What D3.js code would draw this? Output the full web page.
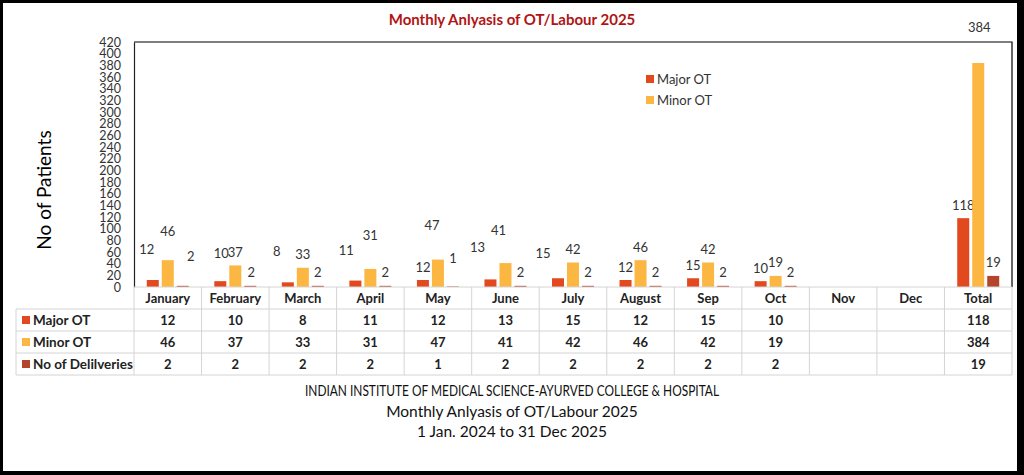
<!DOCTYPE html>
<html>
<head>
<meta charset="utf-8">
<script src="https://cdn.jsdelivr.net/npm/d3@7"></script>
<style>
  body { margin: 0; background: #fff; }
  text { font-family: Lato, "Open Sans", sans-serif; }
</style>
</head>
<body>
<div id="chart"></div>
<script>
var categories = ["January","February","March","April","May","June","July","August","Sep","Oct","Nov","Dec","Total"];
var majorOT    = [12, 10, 8, 11, 12, 13, 15, 12, 15, 10, null, null, 118];
var minorOT    = [46, 37, 33, 31, 47, 41, 42, 46, 42, 19, null, null, 384];
var deliveries = [2, 2, 2, 2, 1, 2, 2, 2, 2, 2, null, null, 19];
var yTicks = d3.range(0, 421, 20);

var seriesNames = ["Major OT", "Minor OT", "No of Delilveries"];
var seriesValues = [majorOT, minorOT, deliveries];
var colors = ["#e2491f", "#fcb743", "#b4452a"];

// hand-moved data labels in the original (dx, dy from default spot)
var majorNudge = [[-6,-18],[1,-15],[-11,-18],[-9,-17],[0,0],[-13,-19],[-15,-12],[0,0],[0,0],[0,0],[0,0],[0,0],[0,0]];
var minorNudge = [[0,-16],[0,0],[0,0],[0,-20],[-6,-21],[-7,-20],[0,0],[0,0],[0,0],[0,0],[0,0],[0,0],[1,-23]];
var delivNudge = [[8,-16],[1,0],[0,0],[0,0],[0,-15],[0,0],[0,0],[0,0],[0,0],[0,0],[0,0],[0,0],[0,0]];
var nudges = [majorNudge, minorNudge, delivNudge];

var width = 1024, height = 475;
var plot = {left: 134, right: 1012, top: 42, bottom: 287};
var rowH = 22;

var svg = d3.select("#chart").append("svg")
    .attr("width", width).attr("height", height);

// black frame
svg.append("rect").attr("width", width).attr("height", height).attr("fill", "#000");
svg.append("rect").attr("x", 3).attr("y", 3).attr("width", 1014).attr("height", 468).attr("fill", "#fff");

var x = d3.scaleBand().domain(categories).range([plot.left, plot.right]);
var xSub = d3.scaleBand().domain(seriesNames).range([-21, 21]).paddingInner(0.2);
var y = d3.scaleLinear().domain([0, 420]).range([plot.bottom, plot.top]);

// title
svg.append("text")
    .attr("x", 512).attr("y", 25)
    .attr("text-anchor", "middle")
    .attr("font-size", 15).attr("font-weight", "bold")
    .attr("fill", "#b01515")
    .text("Monthly Anlyasis of OT/Labour 2025");

// plot box
svg.append("path")
    .attr("d", "M" + plot.left + "," + plot.top + "H" + plot.right + "V" + plot.bottom)
    .attr("fill", "none").attr("stroke", "#000").attr("stroke-width", 1.2);

// y axis
var yAxis = d3.axisLeft(y).tickValues(yTicks).tickSize(0).tickPadding(13);
var gy = svg.append("g")
    .attr("transform", "translate(" + plot.left + ",0)")
    .call(yAxis);
gy.select(".domain").attr("stroke", "#222").attr("stroke-width", 1.2);
gy.selectAll("text").attr("font-size", 12.5).attr("fill", "#333")
    .style("font-family", "Lato, sans-serif");

svg.append("text")
    .attr("transform", "translate(51,190) rotate(-90)")
    .attr("text-anchor", "middle")
    .attr("font-size", 19).attr("fill", "#000")
    .text("No of Patients");

// bars + labels
seriesValues.forEach(function(vals, s) {
    var g = svg.append("g");
    var pts = categories.map(function(c, i) { return {c: c, v: vals[i], i: i}; })
        .filter(function(d) { return d.v != null; });

    g.selectAll("rect").data(pts).enter().append("rect")
        .attr("x", function(d) { return x(d.c) + x.bandwidth() / 2 + xSub(seriesNames[s]); })
        .attr("width", xSub.bandwidth())
        .attr("y", function(d) { return y(d.v); })
        .attr("height", function(d) { return y(0) - y(d.v); })
        .attr("fill", colors[s]);

    g.selectAll("text").data(pts).enter().append("text")
        .attr("x", function(d) { return x(d.c) + x.bandwidth() / 2 + xSub(seriesNames[s]) + xSub.bandwidth() / 2 + nudges[s][d.i][0]; })
        .attr("y", function(d) { return y(d.v) - 13 + nudges[s][d.i][1]; })
        .attr("dy", "0.35em")
        .attr("text-anchor", "middle")
        .attr("font-size", 13).attr("fill", "#333")
        .text(function(d) { return d.v; });
});

// legend inside plot
var legend = svg.append("g").attr("transform", "translate(646,79)");
[0, 1].forEach(function(s) {
    legend.append("rect").attr("x", 0).attr("y", s * 21 - 4).attr("width", 8).attr("height", 8).attr("fill", colors[s]);
    legend.append("text").attr("x", 11).attr("y", s * 21).attr("dy", "0.35em")
        .attr("font-size", 13).attr("fill", "#333").text(seriesNames[s]);
});

// data table
var tTop = plot.bottom, tLeft = 16;
var grid = svg.append("g").attr("stroke", "#d4d4d4").attr("stroke-width", 1);
grid.append("line").attr("x1", plot.left).attr("x2", plot.right).attr("y1", tTop).attr("y2", tTop);
for (var r = 1; r <= 4; r++) {
    grid.append("line").attr("x1", tLeft).attr("x2", plot.right)
        .attr("y1", tTop + r * rowH).attr("y2", tTop + r * rowH);
}
grid.append("line").attr("x1", tLeft).attr("x2", tLeft).attr("y1", tTop + rowH).attr("y2", tTop + 4 * rowH);
categories.forEach(function(c) {
    grid.append("line").attr("x1", x(c)).attr("x2", x(c)).attr("y1", tTop).attr("y2", tTop + 4 * rowH);
});
grid.append("line").attr("x1", plot.right).attr("x2", plot.right).attr("y1", tTop).attr("y2", tTop + 4 * rowH);

svg.append("g").selectAll("text").data(categories).enter().append("text")
    .attr("x", function(d) { return x(d) + x.bandwidth() / 2; })
    .attr("y", tTop + rowH / 2).attr("dy", "0.35em")
    .attr("text-anchor", "middle")
    .attr("font-size", 13).attr("font-weight", "bold").attr("fill", "#222")
    .text(function(d) { return d; });

seriesValues.forEach(function(vals, s) {
    var cy = tTop + (s + 1.5) * rowH;
    svg.append("rect").attr("x", 22).attr("y", cy - 4).attr("width", 8).attr("height", 8).attr("fill", colors[s]);
    svg.append("text").attr("x", 33).attr("y", cy).attr("dy", "0.35em")
        .attr("font-size", 13.5).attr("font-weight", "bold").attr("fill", "#222")
        .text(seriesNames[s]);
    svg.append("g").selectAll("text").data(categories).enter().append("text")
        .attr("x", function(d) { return x(d) + x.bandwidth() / 2; })
        .attr("y", cy).attr("dy", "0.35em")
        .attr("text-anchor", "middle")
        .attr("font-size", 13).attr("font-weight", "bold").attr("fill", "#222")
        .text(function(d, i) { return vals[i] == null ? "" : vals[i]; });
});

// footer
var footer = ["INDIAN INSTITUTE OF MEDICAL SCIENCE-AYURVED COLLEGE & HOSPITAL",
              "Monthly Anlyasis of OT/Labour 2025",
              "1 Jan. 2024 to 31 Dec 2025"];
var footText = svg.append("g").selectAll("text").data(footer).enter().append("text")
    .attr("x", 512).attr("y", function(d, i) { return 391 + i * 20.5; })
    .attr("dy", "0.35em")
    .attr("text-anchor", "middle")
    .attr("font-size", 15.5).attr("fill", "#111")
    .text(function(d) { return d; });
// first line is set in a narrower face in the original
footText.filter(function(d, i) { return i === 0; })
    .attr("textLength", 414).attr("lengthAdjust", "spacingAndGlyphs");
</script>
</body>
</html>
